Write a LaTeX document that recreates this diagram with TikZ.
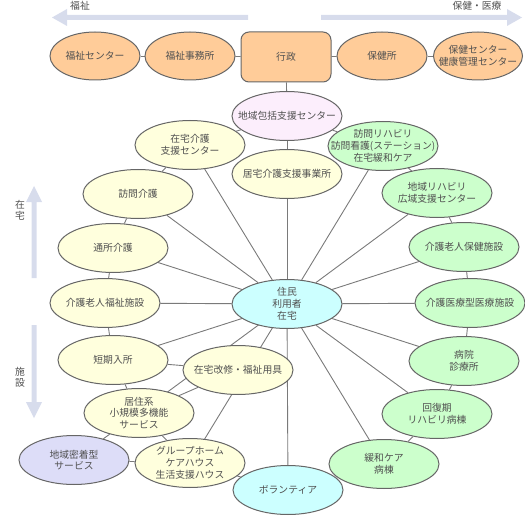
\documentclass[tikz,border=0pt]{standalone}
\usepackage{fontspec}
\setmainfont{Noto Sans CJK JP}
\usetikzlibrary{shapes.geometric}
\pgfdeclarelayer{background}
\pgfsetlayers{background,main}
\definecolor{orangefill}{HTML}{FFCC99}
\definecolor{yelfill}{HTML}{FFFFDD}
\definecolor{pinkfill}{HTML}{FCEEFC}
\definecolor{greenfill}{HTML}{CCFFCC}
\definecolor{cyanfill}{HTML}{CCFFFF}
\definecolor{lavfill}{HTML}{DDDDF8}
\definecolor{bordergray}{HTML}{666666}
\definecolor{linegray}{HTML}{7A7A7A}
\definecolor{textgray}{HTML}{505050}
\definecolor{arrowblue}{HTML}{D7DCEC}
\begin{document}
\begin{tikzpicture}[x=1pt,y=-1pt,
  ell/.style={ellipse, draw=bordergray, line width=1pt, minimum width=110pt, minimum height=49pt,
    inner xsep=-30pt, inner ysep=-20pt, align=center, text=textgray,
    font=\fontsize{9.8}{11.8}\selectfont},
  topell/.style={ell, minimum width=90pt, minimum height=48pt, fill=orangefill},
  yel/.style={ell, fill=yelfill},
  grn/.style={ell, fill=greenfill},
  cyn/.style={ell, fill=cyanfill},
  pnk/.style={ell, fill=pinkfill},
  lav/.style={ell, fill=lavfill},
  govbox/.style={rectangle, rounded corners=8pt, draw=bordergray, line width=1pt, fill=orangefill,
    minimum width=90pt, minimum height=50pt, text=textgray, font=\fontsize{9.8}{11.8}\selectfont},
  lbl/.style={text=textgray, align=center, inner sep=0pt, font=\fontsize{9.8}{11}\selectfont},
  link/.style={draw=linegray, line width=0.9pt},
  bigarrow/.style={fill=arrowblue, draw=none}
]
\useasboundingbox (0,0) rectangle (525,516);

% direction arrows
\fill[bigarrow] (248,15) -- (67,15) -- (67,9) -- (52,17.5) -- (67,26) -- (67,20) -- (248,20) -- cycle;
\fill[bigarrow] (321,15) -- (507,15) -- (507,9) -- (522,17.5) -- (507,26) -- (507,20) -- (321,20) -- cycle;
\fill[bigarrow] (31.5,278) -- (31.5,202) -- (26,202) -- (34,186) -- (42,202) -- (36.5,202) -- (36.5,278) -- cycle;
\fill[bigarrow] (31.5,325) -- (31.5,402) -- (26,402) -- (34,418) -- (42,402) -- (36.5,402) -- (36.5,325) -- cycle;
\node[lbl] (lfuku) at (80,6) {福祉};
\node[lbl] (lhoken) at (477,6) {保健・医療};
\node[lbl] (lzaitaku) at (20,210.5) {在\\宅};
\node[lbl] (lshisetsu) at (20,377.5) {施\\設};

% top row
\node[topell] (fc) at (95,56) {福祉センター};
\node[topell] (fj) at (190,56) {福祉事務所};
\node[govbox] (gov) at (286,57) {行政};
\node[topell] (hj) at (382,56) {保健所};
\node[topell, minimum width=89pt] (hc) at (478,56) {保健センター\\健康管理センター};

% ring
\node[pnk] (chiiki) at (287,116) {地域包括支援センター};
\node[yel] (zaic) at (190,145) {在宅介護\\支援センター};
\node[yel] (kyotaku) at (287,174) {居宅介護支援事業所};
\node[grn] (hreha) at (383,146) {訪問リハビリ\\訪問看護(ステーション)\\在宅緩和ケア};
\node[grn] (creha) at (437,193) {地域リハビリ\\広域支援センター};
\node[grn] (rhoken) at (464,247) {介護老人保健施設};
\node[grn] (iryo) at (470,303) {介護医療型医療施設};
\node[grn] (byoin) at (464,361) {病院\\診療所};
\node[grn] (kaifuku) at (437,414) {回復期\\リハビリ病棟};
\node[grn] (kanwa) at (384,464) {緩和ケア\\病棟};
\node[cyn] (vol) at (288,490) {ボランティア};
\node[cyn] (hub) at (287,304) {住民\\利用者\\在宅};
\node[yel] (hkaigo) at (138,194) {訪問介護};
\node[yel] (tsusho) at (113,248) {通所介護};
\node[yel] (rfuku) at (105,303) {介護老人福祉施設};
\node[yel] (tanki) at (113,360) {短期入所};
\node[yel] (kaishu) at (238,370) {在宅改修・福祉用具};
\node[yel] (kyoju) at (139,413) {居住系\\小規模多機能\\サービス};
\node[lav] (mitchaku) at (74,460) {地域密着型\\サービス};
\node[yel] (group) at (190,463) {グループホーム\\ケアハウス\\生活支援ハウス};

\begin{pgfonlayer}{background}
  % top row
  \draw[link] (fc) -- (fj);
  \draw[link] (fj) -- (gov);
  \draw[link] (gov) -- (hj);
  \draw[link] (hj) -- (hc);
  \draw[link] (gov) -- (chiiki);
  % ring chain
  \draw[link] (chiiki) -- (kyotaku);
  \draw[link] (chiiki) -- (zaic);
  \draw[link] (zaic) -- (hkaigo);
  \draw[link] (hkaigo) -- (tsusho);
  \draw[link] (tsusho) -- (rfuku);
  \draw[link] (rfuku) -- (tanki);
  \draw[link] (tanki) -- (kyoju);
  \draw[link] (tanki) -- (kaishu);
  \draw[link] (kaishu) -- (kyoju);
  \draw[link] (kyoju) -- (mitchaku);
  \draw[link] (kyoju) -- (group);
  \draw[link] (mitchaku) -- (group);
  \draw[link] (group) -- (vol);
  \draw[link] (vol) -- (kanwa);
  \draw[link] (kanwa) -- (kaifuku);
  \draw[link] (kaifuku) -- (byoin);
  \draw[link] (byoin) -- (iryo);
  \draw[link] (iryo) -- (rhoken);
  \draw[link] (rhoken) -- (creha);
  \draw[link] (creha) -- (hreha);
  \draw[link] (hreha) -- (chiiki);
  % hub spokes
  \foreach \t in {zaic,kyotaku,hreha,creha,rhoken,iryo,byoin,kaifuku,kanwa,vol,hkaigo,tsusho,rfuku,tanki}
    \draw[link] (hub) -- (\t);
  \draw[link] (hub.center) -- (group.center);
  \draw[link] (hub.center) -- (kyoju.center);
\end{pgfonlayer}
\end{tikzpicture}
\end{document}
